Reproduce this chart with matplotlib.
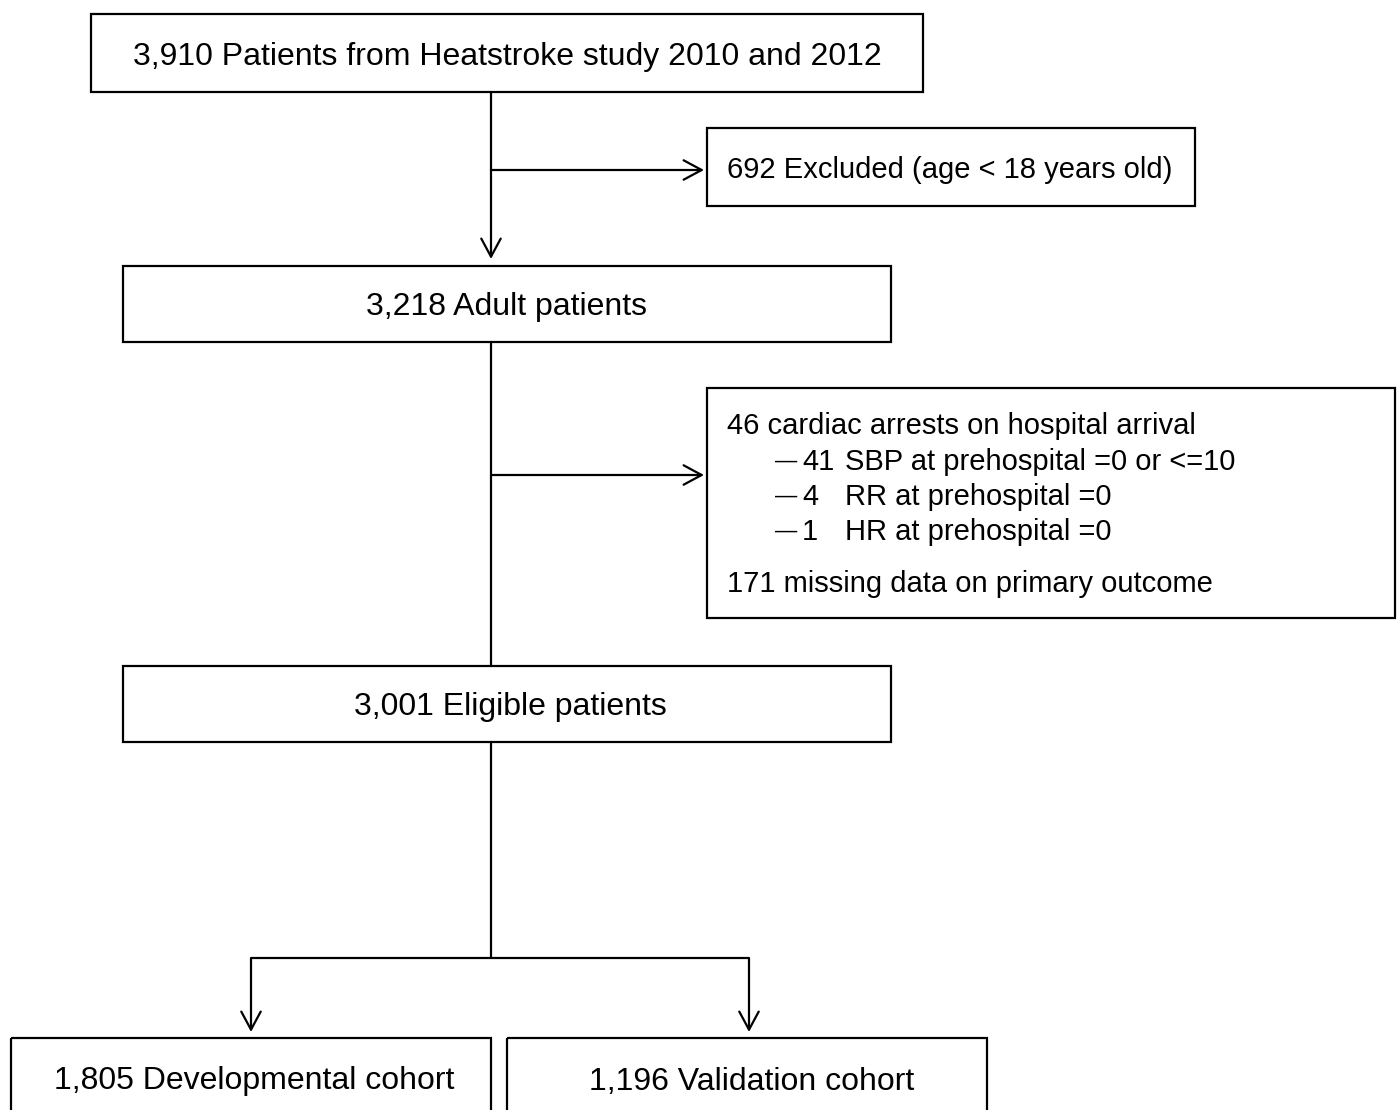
import matplotlib
matplotlib.use('Agg')
import matplotlib.pyplot as plt
from matplotlib.patches import Rectangle

plt.rcParams['font.family'] = ['Liberation Sans', 'DejaVu Sans']

# Flow chart texts #############################################
top_label = '3,910 Patients from Heatstroke study 2010 and 2012'
excl1_label = '692 Excluded (age < 18 years old)'
adult_label = '3,218 Adult patients'
excl2_head = '46 cardiac arrests on hospital arrival'
excl2_dash = ['\u2014', '\u2014', '\u2014']
excl2_nums = ['41', '4', '1']
excl2_items = ['SBP at prehospital =0 or <=10', 'RR at prehospital =0',
               'HR at prehospital =0']
excl2_tail = '171 missing data on primary outcome'
elig_label = '3,001 Eligible patients'
dev_label = '1,805 Developmental cohort'
val_label = '1,196 Validation cohort'

# Layout in pixels (x0, y0, x1, y1) ###########################
W, H = 1398, 1110
boxes = {'top': (91, 14, 923, 92),
         'excl1': (707, 128, 1195, 206),
         'adult': (123, 266, 891, 342),
         'excl2': (707, 388, 1395, 618),
         'elig': (123, 666, 891, 742),
         'dev': (11, 1038, 491, 1125),
         'val': (507, 1038, 987, 1125)}

fig = plt.figure(figsize=(W/100, H/100), dpi=100)
ax = fig.add_axes([0, 0, 1, 1])
ax.set_xlim(0, W)
ax.set_ylim(H, 0)
ax.axis('off')

lw = 1.6
fs = 23   # main boxes
fs2 = 21  # exclusion boxes
va = 'center_baseline'

for key, (x0, y0, x1, y1) in boxes.items():
    ax.add_patch(Rectangle((x0, y0), x1-x0, y1-y0, fill=False,
                           edgecolor='black', linewidth=lw, clip_on=True))

def center_text(key, s, dx=0):
    x0, y0, x1, y1 = boxes[key]
    yc = (y0+y1)/2 if key not in ('dev', 'val') else 1078
    ax.text((x0+x1)/2+dx, yc, s, ha='center', va=va, fontsize=fs)

center_text('top', top_label)
center_text('adult', adult_label)
center_text('elig', elig_label, dx=3)
center_text('dev', dev_label, dx=3)
center_text('val', val_label, dx=5)
x0, y0, x1, y1 = boxes['excl1']
ax.text(727, (y0+y1)/2, excl1_label, ha='left', va=va, fontsize=fs2)

# multi-line exclusion box
ax.text(727, 423, excl2_head, ha='left', va=va, fontsize=fs2)
for i, (d, n, s) in enumerate(zip(excl2_dash, excl2_nums, excl2_items)):
    yy = 459 + i*35
    ax.text(775, yy, d, ha='left', va=va, fontsize=16)
    ax.text(802, yy, n, ha='left', va=va, fontsize=fs2)
    ax.text(845, yy, s, ha='left', va=va, fontsize=fs2)
ax.text(727, 581, excl2_tail, ha='left', va=va, fontsize=fs2)

# connectors ##################################################
def line(xs, ys):
    ax.plot(xs, ys, color='black', linewidth=lw, solid_capstyle='butt')

def arrow(xa, ya, xb, yb):
    ax.annotate('', xy=(xb, yb), xytext=(xa, ya),
                arrowprops=dict(arrowstyle='->,head_length=1.3,head_width=0.7',
                                color='black', lw=lw, shrinkA=0, shrinkB=0))

xm = 491
arrow(xm, 92, xm, 259)
arrow(xm, 170, 704, 170)
line([xm, xm], [342, 666])
arrow(xm, 475, 704, 475)
line([xm, xm], [742, 958])
line([251, 749], [958, 958])
arrow(251, 958, 251, 1032)
arrow(749, 958, 749, 1032)

plt.savefig('out.png', dpi=100)
